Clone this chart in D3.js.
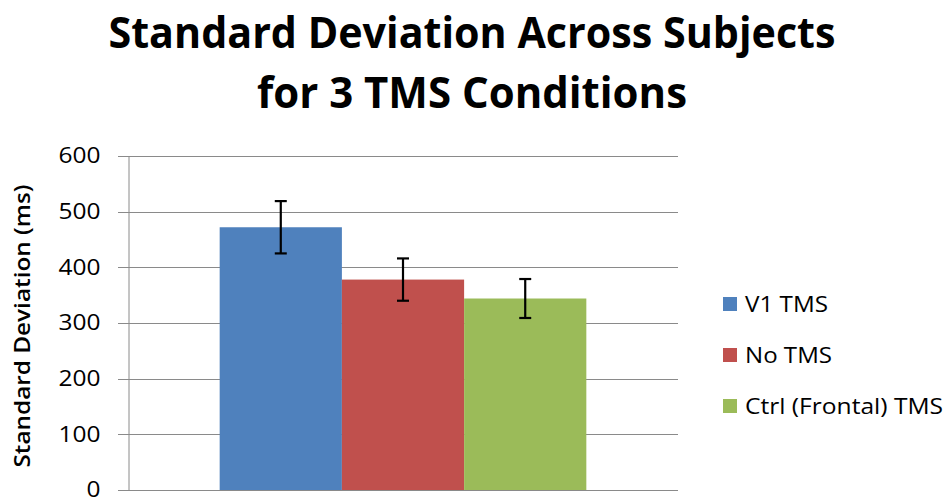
<!DOCTYPE html>
<html lang="en">
<head>
<meta charset="UTF-8">
<title>Standard Deviation Across Subjects</title>
<script src="https://d3js.org/d3.v7.min.js"></script>
<style>
  * { margin: 0; padding: 0; }
  body { background: #fff; }
  svg { display: block; font-family: "Open Sans", "Noto Sans", sans-serif; }
</style>
</head>
<body>
<div id="chart"></div>
<script>
// data
var titleLines = ['Standard Deviation Across Subjects', 'for 3 TMS Conditions'];
var yTitle = 'Standard Deviation (ms)';
var category = ['All'];
var series = ['V1 TMS', 'No TMS', 'Ctrl (Frontal) TMS'];
var values = [472, 378, 344];
var errors = [47, 38, 35];
var yTicks = [0, 100, 200, 300, 400, 500, 600];
var colors = ['#4F81BD', '#C0504D', '#9BBB59'];

var width = 946, height = 498;
var plot = { left: 128, right: 678, top: 156, bottom: 490 };

var svg = d3.select('#chart').append('svg')
  .attr('width', width)
  .attr('height', height);

// title
svg.append('g').selectAll('text')
  .data(titleLines)
  .enter().append('text')
  .attr('x', 472)
  .attr('y', function (d, i) { return 48 + i * 60; })
  .attr('text-anchor', 'middle')
  .attr('font-size', 43)
  .attr('font-weight', 'bold')
  .attr('fill', '#000')
  .attr('textLength', function (d, i) { return i == 0 ? 727 : 430; })
  .attr('lengthAdjust', 'spacingAndGlyphs')
  .text(function (d) { return d; });

// scales
var y = d3.scaleLinear().domain([0, 600]).range([plot.bottom, plot.top]);
var x0 = d3.scaleBand().domain(category).range([plot.left, plot.right])
  .paddingInner(0).paddingOuter(0.25);
var x1 = d3.scaleBand().domain(series).range([0, x0.bandwidth()]);

// gridlines
svg.append('g').selectAll('line')
  .data(yTicks)
  .enter().append('line')
  .attr('x1', plot.left - 10)
  .attr('x2', plot.right)
  .attr('y1', function (d) { return Math.round(y(d)) + 0.5; })
  .attr('y2', function (d) { return Math.round(y(d)) + 0.5; })
  .attr('stroke', '#8a8a8a')
  .attr('stroke-width', 1);

// y axis
var yAxis = svg.append('g')
  .attr('transform', 'translate(' + (plot.left + 0.5) + ',0)')
  .call(d3.axisLeft(y).tickValues(yTicks).tickSize(0).tickPadding(28));
yAxis.select('.domain').attr('stroke', '#8a8a8a');
yAxis.selectAll('text')
  .attr('font-size', 21)
  .attr('fill', '#000')
  .attr('font-family', '"Open Sans", sans-serif')
  .attr('textLength', function (d) { return String(d).length * 14; })
  .attr('lengthAdjust', 'spacingAndGlyphs');

// y title
svg.append('text')
  .attr('transform', 'translate(30,326) rotate(-90)')
  .attr('text-anchor', 'middle')
  .attr('font-size', 21)
  .attr('font-weight', 600)
  .attr('fill', '#000')
  .attr('textLength', 283)
  .attr('lengthAdjust', 'spacingAndGlyphs')
  .text(yTitle);

// bars
var g = svg.append('g').attr('transform', 'translate(' + x0(category[0]) + ',0)');
g.selectAll('rect')
  .data(values)
  .enter().append('rect')
  .attr('x', function (d, i) { return x1(series[i]); })
  .attr('y', function (d) { return y(d); })
  .attr('width', x1.bandwidth())
  .attr('height', function (d) { return y(0) - y(d); })
  .attr('fill', function (d, i) { return colors[i]; });

// error bars
var eb = g.selectAll('.err')
  .data(values)
  .enter().append('g')
  .attr('class', 'err')
  .attr('stroke', '#000')
  .attr('stroke-width', 2.2);
eb.append('line')
  .attr('x1', function (d, i) { return x1(series[i]) + x1.bandwidth() / 2; })
  .attr('x2', function (d, i) { return x1(series[i]) + x1.bandwidth() / 2; })
  .attr('y1', function (d, i) { return y(d + errors[i]); })
  .attr('y2', function (d, i) { return y(d - errors[i]); });
eb.selectAll('.cap')
  .data(function (d, i) { return [[i, d + errors[i]], [i, d - errors[i]]]; })
  .enter().append('line')
  .attr('class', 'cap')
  .attr('x1', function (d) { return x1(series[d[0]]) + x1.bandwidth() / 2 - 6; })
  .attr('x2', function (d) { return x1(series[d[0]]) + x1.bandwidth() / 2 + 6; })
  .attr('y1', function (d) { return y(d[1]); })
  .attr('y2', function (d) { return y(d[1]); });

// x axis line
svg.append('line')
  .attr('x1', plot.left - 10).attr('x2', plot.right)
  .attr('y1', y(0) + 0.5).attr('y2', y(0) + 0.5)
  .attr('stroke', '#8a8a8a');

// legend
var legendW = [83, 87, 198];
var leg = svg.append('g').selectAll('g')
  .data(series)
  .enter().append('g')
  .attr('transform', function (d, i) { return 'translate(723,' + (297 + i * 51) + ')'; });
leg.append('rect')
  .attr('width', 14).attr('height', 14)
  .attr('fill', function (d, i) { return colors[i]; });
leg.append('text')
  .attr('x', 22).attr('y', 14.5)
  .attr('font-size', 21)
  .attr('fill', '#000')
  .attr('textLength', function (d, i) { return legendW[i]; })
  .attr('lengthAdjust', 'spacingAndGlyphs')
  .text(function (d) { return d; });
</script>
</body>
</html>
